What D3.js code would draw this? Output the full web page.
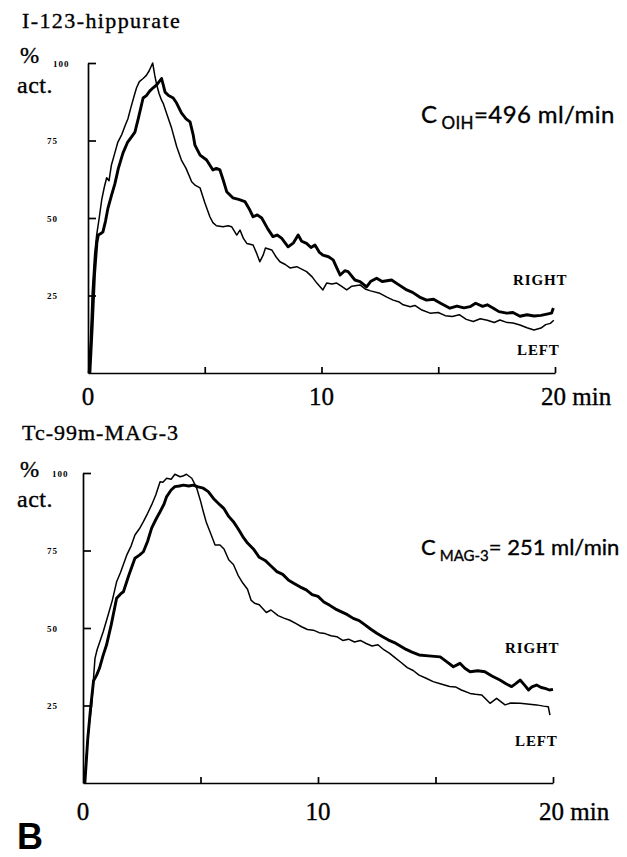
<!DOCTYPE html>
<html>
<head>
<meta charset="utf-8">
<script src="https://cdn.jsdelivr.net/npm/d3@7"></script>
<style>
  body { margin: 0; background: #fff; }
  svg { display: block; }
</style>
</head>
<body>
<div id="chart"></div>
<script>
// renogram curves, % of peak activity vs minutes
const yTicks = [25, 50, 75, 100];
const xTickMarks = [5, 10, 15, 20];
const xLabels = [0, 10, 20];

// I-123-hippurate, left kidney (thin)
const oihLeftT = [0.02,0.1,0.18,0.28,0.37,0.48,0.59,0.7,0.8,0.9,1.0,1.15,1.28,1.45,1.6,1.71,1.85,2.0,2.08,2.2,2.36,2.5,2.62,2.77,2.86,2.94,3.05,3.15,3.22,3.4,3.58,3.8,4.0,4.2,4.44,4.6,4.8,5.0,5.22,5.35,5.5,5.78,6.0,6.15,6.37,6.51,6.65,6.8,7.07,7.2,7.36,7.5,7.6,7.87,8.05,8.22,8.45,8.65,8.94,9.15,9.36,9.6,9.8,10.06,10.22,10.45,10.65,10.85,11.08,11.3,11.65,11.9,12.1,12.5,12.8,13.07,13.3,13.5,13.8,14.0,14.3,14.65,15.0,15.3,15.6,15.9,16.2,16.5,16.8,17.1,17.4,17.64,17.9,18.2,18.5,18.8,19.1,19.4,19.6,19.8,19.95];
const oihLeftV = [0,10,26,38,44.5,50,56,60,63,62,67,71,74.5,77,80,82,86,90,92,94,95,96,97.5,100,96,93,90,88,87,83,79,73,68.7,66,61.7,60.5,59.7,55,50.4,48.5,47.5,47.2,47.5,47.2,44.5,46.1,43.5,41.8,41.3,39,35.9,38,40.3,39.7,37.5,35.9,35,33.9,34.3,33.5,32.7,31,29,26.8,29,28.7,29,28,26.8,28,28.4,27,26.5,25.7,24.5,23.5,23,22,21.4,21.8,20.3,19.3,19.5,18.5,18.2,18.8,17.3,16.6,17.5,17,16.3,17.1,16.4,16.1,15.5,14.6,13.9,14.5,15.6,16,17];

// I-123-hippurate, right kidney (thick)
const oihRightT = [0.08,0.18,0.28,0.38,0.44,0.55,0.64,0.75,0.85,1.01,1.15,1.3,1.5,1.7,1.85,2.01,2.15,2.36,2.5,2.65,2.79,2.95,3.15,3.22,3.3,3.45,3.65,3.8,4.0,4.2,4.37,4.5,4.58,4.8,5.08,5.35,5.5,5.65,5.8,5.94,6.2,6.45,6.72,6.9,7.07,7.25,7.44,7.7,7.92,8.1,8.29,8.57,8.8,9.0,9.15,9.36,9.55,9.72,9.9,10.06,10.3,10.5,10.65,10.8,11.0,11.14,11.43,11.65,11.93,12.1,12.36,12.6,13.0,13.3,13.65,13.9,14.2,14.5,14.8,15.1,15.5,15.8,16.1,16.36,16.6,16.9,17.1,17.36,17.6,17.93,18.2,18.5,18.8,19.1,19.4,19.65,19.85,19.93];
const oihRightV = [0,15,32,42,44.5,45,45.5,49,53,57.4,61,66,71,74.5,76,77.7,82,88.7,89.5,91,92,93,95,93,90.6,89.5,88.7,87,83.9,82,81,77,73.5,70.3,68.7,65.5,66,65.5,62,58.5,56.5,56,55.3,53,50.4,51,50,46.5,44,44.5,43.5,40.7,42,44.5,42.5,41.8,40.5,41.3,39,38,37.5,36.5,34,31.6,33,32.7,30,29.5,27.8,29.5,30.6,29.5,30,28.5,26.8,26,24.5,23.5,23.8,22.5,20.9,21.6,21,21.4,22.5,21.5,22,20.9,19.8,19.3,19.5,18.3,18.8,18.4,18.6,19,19.3,21];

// Tc-99m-MAG-3, left kidney (thin)
const magLeftT = [0.05,0.15,0.25,0.37,0.45,0.51,0.6,0.86,1.1,1.25,1.43,1.6,1.86,2.05,2.21,2.4,2.57,2.75,2.92,3.1,3.28,3.4,3.56,3.75,3.91,4.13,4.25,4.4,4.63,4.84,5.0,5.12,5.25,5.4,5.62,5.83,6.0,6.2,6.4,6.6,6.8,7.0,7.15,7.3,7.5,7.8,8.0,8.3,8.55,8.8,9.05,9.3,9.55,9.8,10.05,10.3,10.55,10.8,11.05,11.3,11.55,11.8,12.05,12.3,12.55,12.8,13.05,13.3,13.55,13.8,14.05,14.3,14.6,14.9,15.2,15.6,15.85,16.1,16.47,16.7,16.97,17.15,17.32,17.6,17.96,18.2,18.6,18.9,19.3,19.6,19.8,19.87];
const magLeftV = [0,9,18,25,34,40.2,43,48.8,55,59,64.9,68,73.5,76.5,80,82,84.3,87,89.7,93,97.2,97,98.3,98,99.6,98.8,99,99.6,98.3,95.1,91,87.5,84,81.1,76.8,76.8,75.5,72,70.5,67,64.5,62.5,59,58,57.5,55,55.8,54,53.2,52.5,51.5,50.4,49.5,49.3,48.5,48.2,47.5,47.2,46,46.4,45.5,46,45,44.2,44.6,43,41.8,40.3,38.8,37.2,36.3,34.8,33.8,32.7,32,31.1,31,30,28.9,28.6,28.4,27,25.7,27.3,25.2,25.8,25.7,25.5,25.2,24.8,24.6,21.9];

// Tc-99m-MAG-3, right kidney (thick)
const magRightT = [0.08,0.2,0.32,0.45,0.58,0.7,0.85,1.0,1.2,1.43,1.6,1.72,1.95,2.21,2.4,2.57,2.75,2.92,3.1,3.28,3.45,3.56,3.75,3.91,4.1,4.27,4.5,4.69,4.9,5.12,5.33,5.55,5.83,6.0,6.2,6.4,6.6,6.8,7.0,7.25,7.5,7.75,8.0,8.25,8.5,8.75,9.0,9.25,9.5,9.75,10.0,10.25,10.5,10.75,11.0,11.25,11.5,11.75,12.0,12.25,12.5,12.75,13.0,13.25,13.5,13.75,14.0,14.3,14.7,15.2,15.5,15.76,16.04,16.25,16.47,16.8,17.1,17.4,17.74,18.0,18.24,18.4,18.6,18.8,18.96,19.1,19.3,19.5,19.66,19.85,20.0];
const magRightV = [0,14,24,33,34.8,37,41,44.5,51,59.6,61,61.7,67,72.5,73.5,74.6,78,82.2,85,87.5,90,92.4,94.5,95.6,95.8,96.1,95.8,96.1,95.5,95.1,94,91.8,89.7,88.5,86,84.3,82,79.5,77.4,75.5,72.8,71.8,70,68.2,67.3,65.4,64.3,63.2,62.3,60.8,60.2,58.4,57.3,56.1,55.2,54.3,53.1,52.4,51,49.6,48.3,47.2,46.1,45.3,44.2,43.1,42.2,41.3,41,40.7,39,37.5,38.6,37,35.9,36.2,35.9,34.5,33.2,32,31.1,32,33.2,31.5,30,31,31.6,30.8,30.5,30,30.2];

const width = 627, height = 857;

const svg = d3.select("#chart")
  .append("svg")
  .attr("width", width)
  .attr("height", height)
  .attr("viewBox", [0, 0, width, height]);

const serif = "'Liberation Serif', 'Times New Roman', serif";
const sans = "Lato, 'Open Sans', sans-serif";

const zip = (ts, vs) => ts.map((t, i) => [t, vs[i]]);

const panels = [
  { title: "I-123-hippurate", titleY: 28, titleSpacing: 1.4, left: 88, right: 555, top: 63, bottom: 373,
    pctY: 63, actY: 93, lblOff100: 35, lblOff: 41,
    sub: "OIH", cText: "=496 ml/min", cY: 123, cSize: 24, subSize: 17, cSpacing: 0.4,
    rightY: 285, leftY: 355, rightX: 513, leftX: 517, xLabY: 405,
    leftSeries: zip(oihLeftT, oihLeftV), rightSeries: zip(oihRightT, oihRightV) },
  { title: "Tc-99m-MAG-3", titleY: 440, titleSpacing: 1.0, left: 83, right: 553, top: 473, bottom: 783,
    pctY: 477, actY: 507, lblOff100: 31, lblOff: 36,
    sub: "MAG-3", cText: "= 251 ml/min", cY: 555, cSize: 22, subSize: 15, cSpacing: 0,
    rightY: 653, leftY: 746, rightX: 505, leftX: 515, xLabY: 820,
    leftSeries: zip(magLeftT, magLeftV), rightSeries: zip(magRightT, magRightV) }
];

// scanned print looks a bit heavy, so give text a hairline stroke
const ink = sel => sel.attr("fill", "#000").attr("stroke", "#000").attr("stroke-width", 0.35);

panels.forEach(p => {
  const x = d3.scaleLinear().domain([0, 20]).range([p.left, p.right]);
  const y = d3.scaleLinear().domain([0, 100]).range([p.bottom, p.top]);
  const g = svg.append("g");

  // title and y label
  g.append("text")
    .attr("x", 22).attr("y", p.titleY)
    .attr("font-family", serif).attr("font-size", 22)
    .attr("letter-spacing", p.titleSpacing)
    .call(ink)
    .text(p.title);
  g.append("text")
    .attr("x", 20).attr("y", p.pctY)
    .attr("font-family", serif).attr("font-size", 23)
    .call(ink)
    .text("%");
  g.append("text")
    .attr("x", 17).attr("y", p.actY)
    .attr("font-family", serif).attr("font-size", 24)
    .attr("letter-spacing", 0.5)
    .call(ink)
    .text("act.");

  // y axis, ticks pointing inward
  const yAxis = g.append("g")
    .attr("transform", `translate(${p.left},0)`)
    .call(d3.axisRight(y).tickValues(yTicks).tickSize(8).tickSizeOuter(0).tickFormat(""));
  yAxis.selectAll("path, line").attr("stroke", "#000").attr("stroke-width", 1.7);

  g.selectAll(".ylab")
    .data(yTicks)
    .join("text")
    .attr("x", d => p.left - (d === 100 ? p.lblOff100 : p.lblOff))
    .attr("y", d => y(d) + 3.5)
    .attr("font-family", serif).attr("font-size", 9).attr("font-weight", "bold")
    .attr("letter-spacing", 1)
    .attr("fill", "#000")
    .text(d => d);

  // x axis, ticks pointing up
  const xAxis = g.append("g")
    .attr("transform", `translate(0,${p.bottom})`)
    .call(d3.axisBottom(x).tickValues(xTickMarks).tickSizeInner(-6).tickSizeOuter(0).tickFormat(""));
  xAxis.selectAll("path, line").attr("stroke", "#000").attr("stroke-width", 1.7);

  g.selectAll(".xlab")
    .data(xLabels)
    .join("text")
    .attr("x", d => x(d) + (d === 20 ? -14 : 0))
    .attr("y", p.xLabY)
    .attr("text-anchor", d => d === 20 ? "start" : "middle")
    .attr("font-family", serif).attr("font-size", 25)
    .call(ink)
    .text(d => d === 20 ? "20 min" : d);

  // curves
  const line = d3.line().x(d => x(d[0])).y(d => y(d[1]));
  g.append("path")
    .datum(p.leftSeries)
    .attr("d", line)
    .attr("fill", "none").attr("stroke", "#000")
    .attr("stroke-width", 1.5).attr("stroke-linejoin", "round");
  g.append("path")
    .datum(p.rightSeries)
    .attr("d", line)
    .attr("fill", "none").attr("stroke", "#000")
    .attr("stroke-width", 2.9).attr("stroke-linejoin", "round");

  // clearance text
  const c = g.append("text")
    .attr("x", 421).attr("y", p.cY)
    .attr("font-family", sans).attr("font-size", p.cSize)
    .attr("letter-spacing", p.cSpacing)
    .call(ink);
  c.append("tspan").text("C");
  c.append("tspan").attr("dx", 4).attr("dy", 6).attr("font-size", p.subSize).text(p.sub);
  c.append("tspan").attr("dy", -6).text(p.cText);

  // kidney labels
  g.append("text")
    .attr("x", p.rightX).attr("y", p.rightY)
    .attr("font-family", serif).attr("font-size", 15).attr("font-weight", "bold")
    .attr("letter-spacing", 0.9)
    .attr("fill", "#000")
    .text("RIGHT");
  g.append("text")
    .attr("x", p.leftX).attr("y", p.leftY)
    .attr("font-family", serif).attr("font-size", 15).attr("font-weight", "bold")
    .attr("letter-spacing", 0.9)
    .attr("fill", "#000")
    .text("LEFT");
});

svg.append("text")
  .attr("x", 17).attr("y", 849)
  .attr("font-family", "'Liberation Sans', Arial, sans-serif")
  .attr("font-size", 36).attr("font-weight", "bold")
  .text("B");
</script>
</body>
</html>
